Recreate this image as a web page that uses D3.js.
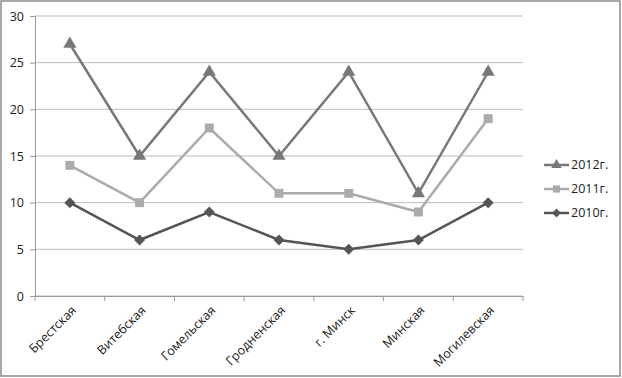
<!DOCTYPE html>
<html>
<head>
<meta charset="utf-8">
<script src="https://cdn.jsdelivr.net/npm/d3@7"></script>
<style>
  body { margin: 0; background: #fff; }
  text { font-family: "Open Sans", "Liberation Sans", sans-serif; }
</style>
</head>
<body>
<div id="vis"></div>
<script>
var width = 622;
var height = 378;

var regions = ["Брестская", "Витебская", "Гомельская", "Гродненская", "г. Минск", "Минская", "Могилевская"];
var years = ["2012г.", "2011г.", "2010г."];
var values2012 = [27, 15, 24, 15, 24, 11, 24];
var values2011 = [14, 10, 18, 11, 11, 9, 19];
var values2010 = [10, 6, 9, 6, 5, 6, 10];
var yTicks = [0, 5, 10, 15, 20, 25, 30];

var series = [
  { name: years[0], values: values2012, color: "#787878", marker: "triangle" },
  { name: years[1], values: values2011, color: "#ababab", marker: "square" },
  { name: years[2], values: values2010, color: "#555555", marker: "diamond" }
];

var svg = d3.select("#vis")
  .append("svg")
  .attr("width", width)
  .attr("height", height);

// frame
svg.append("rect")
  .attr("x", 1).attr("y", 1)
  .attr("width", width - 3).attr("height", height - 3)
  .attr("fill", "#fff")
  .attr("stroke", "#8c8c8c")
  .attr("stroke-width", 1.5);

var plotLeft = 35, plotRight = 523, plotTop = 16, plotBottom = 296;

var x = d3.scaleBand()
  .domain(regions)
  .range([plotLeft, plotRight]);

var y = d3.scaleLinear()
  .domain([0, 30])
  .range([plotBottom, plotTop]);

// gridlines
svg.append("g")
  .selectAll("line")
  .data(yTicks)
  .enter()
  .append("line")
  .attr("x1", plotLeft).attr("x2", plotRight)
  .attr("y1", d => y(d)).attr("y2", d => y(d))
  .attr("stroke", "#bdbdbd")
  .attr("stroke-width", 1);

var yAxis = d3.axisLeft(y).tickValues(yTicks).tickSize(5).tickPadding(6);
var gy = svg.append("g")
  .attr("transform", `translate(${plotLeft},0)`)
  .call(yAxis);
gy.selectAll("path, line").attr("stroke", "#9a9a9a");
gy.selectAll("text").style("font-size", "12.5px").attr("fill", "#222");

var xAxis = d3.axisBottom(x).tickSize(0).tickFormat("");
var gx = svg.append("g")
  .attr("transform", `translate(0,${plotBottom})`)
  .call(xAxis);
gx.select("path").attr("stroke", "#9a9a9a");

// category boundary ticks
svg.append("g")
  .selectAll("line")
  .data(regions.concat(["end"]))
  .enter()
  .append("line")
  .attr("x1", (d, i) => plotLeft + i * x.bandwidth())
  .attr("x2", (d, i) => plotLeft + i * x.bandwidth())
  .attr("y1", plotBottom).attr("y2", plotBottom + 5)
  .attr("stroke", "#9a9a9a");

// rotated category labels
svg.append("g")
  .selectAll("text")
  .data(regions)
  .enter()
  .append("text")
  .attr("transform", d => `translate(${x(d) + x.bandwidth() / 2 + 4},${plotBottom + 12}) rotate(-45)`)
  .attr("text-anchor", "end")
  .attr("dy", "0.35em")
  .style("font-size", "12.5px")
  .attr("fill", "#222")
  .text(d => d);

var cx = d => x(d) + x.bandwidth() / 2;

var line = d3.line()
  .x((d, i) => cx(regions[i]))
  .y(d => y(d));

var markers = {
  triangle: d3.symbol().type(d3.symbolTriangle).size(75),
  square: d3.symbol().type(d3.symbolSquare).size(80),
  diamond: d3.symbol().type(d3.symbolSquare).size(60)
};
var markerRotate = { triangle: 0, square: 0, diamond: 45 };

series.slice().reverse().forEach(function (s) {
  svg.append("path")
    .datum(s.values)
    .attr("d", line)
    .attr("fill", "none")
    .attr("stroke", s.color)
    .attr("stroke-width", 2.5);

  svg.append("g")
    .selectAll("path")
    .data(s.values)
    .enter()
    .append("path")
    .attr("d", markers[s.marker])
    .attr("transform", (d, i) => `translate(${cx(regions[i])},${y(d)}) rotate(${markerRotate[s.marker]})`)
    .attr("fill", s.color);
});

// legend
var legend = svg.append("g");
series.forEach(function (s, i) {
  var ly = 165 + i * 24;
  legend.append("line")
    .attr("x1", 544).attr("x2", 569)
    .attr("y1", ly).attr("y2", ly)
    .attr("stroke", s.color)
    .attr("stroke-width", 2.5);
  legend.append("path")
    .attr("d", markers[s.marker])
    .attr("transform", `translate(556.5,${ly}) rotate(${markerRotate[s.marker]}) scale(0.8)`)
    .attr("fill", s.color);
  legend.append("text")
    .attr("x", 571)
    .attr("y", ly)
    .attr("dy", "0.35em")
    .style("font-size", "12.5px")
    .attr("fill", "#222")
    .text(s.name);
});
</script>
</body>
</html>
